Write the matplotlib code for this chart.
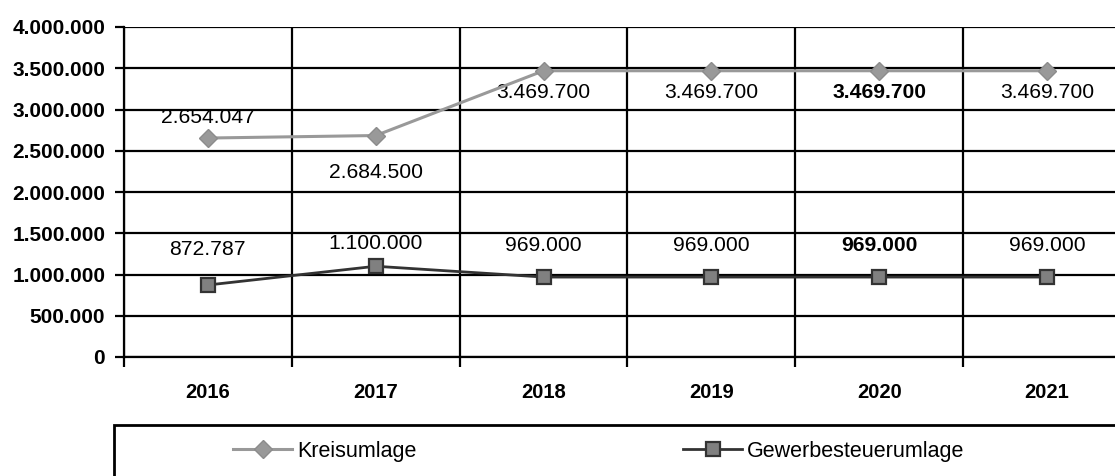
import matplotlib.pyplot as plt
import numpy as np
from matplotlib.ticker import FixedLocator
from matplotlib.patches import Rectangle
from matplotlib.lines import Line2D

plt.rcParams['font.family'] = ['Liberation Sans', 'DejaVu Sans']

# Data
years = ["2016", "2017", "2018", "2019", "2020", "2021"]
kreisumlage = [2654047, 2684500, 3469700, 3469700, 3469700, 3469700]
gewerbe = [872787, 1100000, 969000, 969000, 969000, 969000]
y_ticks = [0, 500000, 1000000, 1500000, 2000000, 2500000, 3000000, 3500000, 4000000]
series_names = ["Kreisumlage", "Gewerbesteuerumlage"]

# label offsets in pixels (above / below the marker)
kreis_off = [20.5, -37, -21.5, -21.5, -21.5, -21.5]
gew_off = [35, 22.5, 31.5, 31.5, 31.5, 31.5]
bold_idx = 4


def de_fmt(v):
    return f"{v:,.0f}".replace(",", ".")


W, H = 1115, 476
fig = plt.figure(figsize=(W / 100, H / 100), dpi=100)
ax = fig.add_axes([124 / W, 1 - 357 / H, (1131 - 124) / W, 330 / H])

x = np.arange(len(years))

kreis_style = dict(color='#999999', lw=2.2, marker='D', ms=9,
                   mfc='#999999', mec='#8c8c8c')
gew_style = dict(color='#333333', lw=2.0, marker='s', ms=9.5,
                 mfc='#808080', mec='#333333', mew=1.6)

# PLOT DATA
ax.plot(x, kreisumlage, zorder=4, clip_on=False, **kreis_style)
ax.plot(x, gewerbe, zorder=4, **gew_style)

for i in range(len(x)):
    w = 'bold' if i == bold_idx else 'normal'
    ax.annotate(de_fmt(kreisumlage[i]), (x[i], kreisumlage[i]), xytext=(0, kreis_off[i]),
                textcoords='offset pixels', ha='center', va='center', fontsize=15.2, fontweight=w)
    ax.annotate(de_fmt(gewerbe[i]), (x[i], gewerbe[i]), xytext=(0, gew_off[i]),
                textcoords='offset pixels', ha='center', va='center', fontsize=15.2, fontweight=w)

# FORMATTING
ax.set_xlim(-0.5, len(years) - 0.5)
ax.set_ylim(0, 4000000)
ax.set_yticks(y_ticks)
ax.set_yticklabels([de_fmt(v) for v in y_ticks], fontweight='bold', fontsize=15)
ax.set_xticks(x)
ax.set_xticklabels(years, fontweight='bold', fontsize=14.5)
ax.tick_params(axis='x', which='major', length=0, pad=18.5)
ax.xaxis.set_minor_locator(FixedLocator(np.arange(-0.5, len(years), 1)))
ax.tick_params(axis='x', which='minor', length=7, width=1.6, direction='out')
ax.tick_params(axis='y', length=6.5, width=1.6, direction='out', pad=7)

ax.grid(axis='y', which='major', color='black', lw=1.6)
ax.grid(axis='x', which='minor', color='black', lw=1.6)
ax.set_axisbelow(True)
for s in ['top', 'right']:
    ax.spines[s].set_visible(False)
for s in ['left', 'bottom']:
    ax.spines[s].set_linewidth(1.6)

# LEGEND - box running off the right/bottom edge, entries placed by hand
fig.patches.append(Rectangle((114 / W, -0.2), 1.0, 0.2 + (476 - 425) / H,
                             transform=fig.transFigure, fill=False,
                             edgecolor='black', lw=2.0))
for name, style, x0 in [(series_names[0], kreis_style, 233),
                        (series_names[1], gew_style, 683)]:
    h = Line2D([], [], **style)
    fig.legend([h], [name], loc='center left', bbox_to_anchor=(x0 / W, 1 - 451 / H),
               frameon=False, fontsize=15.5, handlelength=2.75,
               handletextpad=0.23, borderpad=0, borderaxespad=0)

plt.savefig("out.png", dpi=100)
plt.close()
